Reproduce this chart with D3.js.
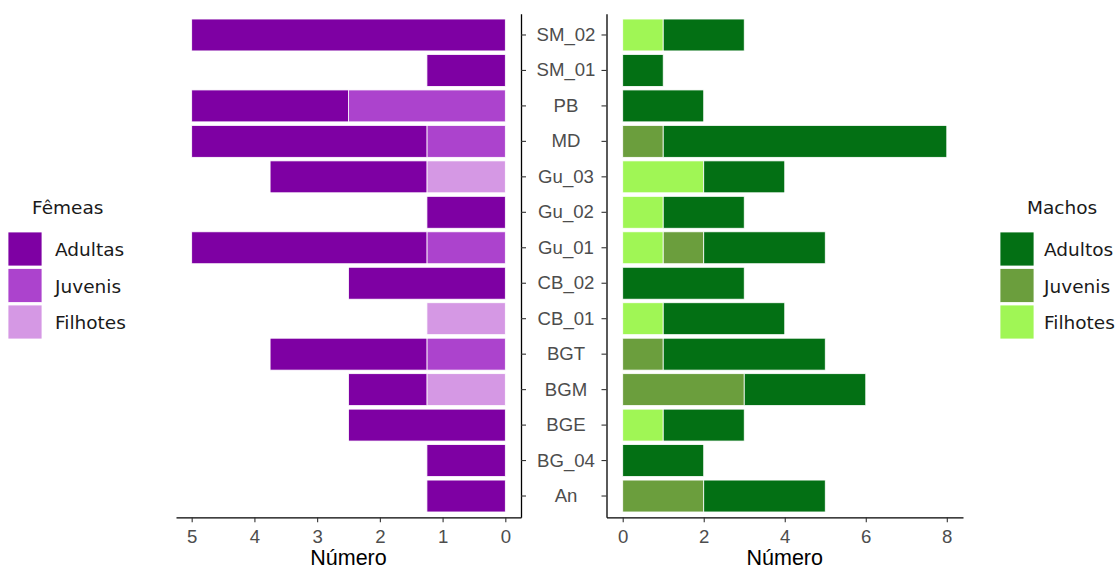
<!DOCTYPE html>
<html>
<head>
<meta charset="utf-8">
<script src="https://cdn.jsdelivr.net/npm/d3@7"></script>
<style>
  body { margin: 0; background: #fff; }
  svg { display: block; }
</style>
</head>
<body>
<svg id="chart" width="1119" height="570"></svg>
<script>
// Sampling sites, listed top to bottom
const sites = ["SM_02","SM_01","PB","MD","Gu_03","Gu_02","Gu_01","CB_02","CB_01","BGT","BGM","BGE","BG_04","An"];

// Females (left panel, reversed axis)
const femAdultas  = [5, 1.25, 2.5, 3.75, 2.5, 1.25, 3.75, 2.5, 0, 2.5, 1.25, 2.5, 1.25, 1.25];
const femJuvenis  = [0, 0, 2.5, 1.25, 0, 0, 1.25, 0, 0, 1.25, 0, 0, 0, 0];
const femFilhotes = [0, 0, 0, 0, 1.25, 0, 0, 0, 1.25, 0, 1.25, 0, 0, 0];

// Males (right panel)
const macAdultos  = [2, 1, 2, 7, 2, 2, 3, 3, 3, 4, 3, 2, 2, 3];
const macJuvenis  = [0, 0, 0, 1, 0, 0, 1, 0, 0, 1, 3, 0, 0, 2];
const macFilhotes = [1, 0, 0, 0, 2, 1, 1, 0, 1, 0, 0, 1, 0, 0];

const femTicks = [5, 4, 3, 2, 1, 0];
const macTicks = [0, 2, 4, 6, 8];

const femKeys = ["Adultas", "Juvenis", "Filhotes"];
const macKeys = ["Adultos", "Juvenis", "Filhotes"];
const femColors = ["#7E00A3", "#AC43CD", "#D598E4"];
const macColors = ["#037014", "#6B9E3D", "#A0F655"];

const femRows = sites.map((s, i) => ({site: s, Adultas: femAdultas[i], Juvenis: femJuvenis[i], Filhotes: femFilhotes[i]}));
const macRows = sites.map((s, i) => ({site: s, Adultos: macAdultos[i], Juvenis: macJuvenis[i], Filhotes: macFilhotes[i]}));

const svg = d3.select("#chart");
const plotTop = 13.7, plotBottom = 517.3;

const y = d3.scaleBand().domain(sites).range([plotTop, plotBottom]).paddingInner(0.1).paddingOuter(0.15);
const xF = d3.scaleLinear().domain([5.25, -0.25]).range([176, 521]);
const xM = d3.scaleLinear().domain([-0.4, 8.4]).range([606.5, 963]);

const tickFont = "'Liberation Sans', Arial, sans-serif";

// Stacks: young classes sit next to zero, adults outermost
const femStack = d3.stack().keys(["Filhotes", "Juvenis", "Adultas"])(femRows);
const macStack = d3.stack().keys(["Filhotes", "Juvenis", "Adultos"])(macRows);
const femColor = d3.scaleOrdinal().domain(femKeys).range(femColors);
const macColor = d3.scaleOrdinal().domain(macKeys).range(macColors);

function drawBars(stack, x, color) {
  svg.append("g").selectAll("g").data(stack).join("g")
    .attr("fill", d => color(d.key))
    .selectAll("rect").data(d => d.filter(p => p[1] - p[0] > 0)).join("rect")
      .attr("x", p => Math.min(x(p[0]), x(p[1])))
      .attr("width", p => Math.abs(x(p[1]) - x(p[0])))
      .attr("y", p => y(p.data.site))
      .attr("height", y.bandwidth())
      .attr("stroke", "#fff")
      .attr("stroke-width", 0.8);
}
drawBars(femStack, xF, femColor);
drawBars(macStack, xM, macColor);

function styleAxis(g) {
  g.select(".domain").attr("stroke", "#000").attr("stroke-width", 1.3);
  g.selectAll(".tick line").attr("stroke", "#333").attr("stroke-width", 1.1);
  g.selectAll(".tick text").attr("fill", "#4D4D4D").style("font-family", tickFont).style("font-size", "18.6px");
}

// Bottom axes
const axF = svg.append("g").attr("transform", `translate(0,${plotBottom})`)
  .call(d3.axisBottom(xF).tickValues(femTicks).tickFormat(d3.format("d")).tickSize(5).tickSizeOuter(0).tickPadding(7));
styleAxis(axF);
const axM = svg.append("g").attr("transform", `translate(0,${plotBottom})`)
  .call(d3.axisBottom(xM).tickValues(macTicks).tickFormat(d3.format("d")).tickSize(5).tickSizeOuter(0).tickPadding(7));
styleAxis(axM);

// Left panel: category axis on its right edge, ticks only
const ayF = svg.append("g").attr("transform", `translate(521,0)`)
  .call(d3.axisRight(y).tickSize(5).tickSizeOuter(0).tickFormat(""));
styleAxis(ayF);

// Right panel: category axis with centred labels
const ayM = svg.append("g").attr("transform", `translate(606.5,0)`)
  .call(d3.axisLeft(y).tickSize(5).tickSizeOuter(0));
styleAxis(ayM);
ayM.selectAll(".tick text").attr("text-anchor", "middle").attr("x", -40.5);

// Axis titles
svg.append("text").attr("x", (176 + 521) / 2).attr("y", 565).attr("text-anchor", "middle")
  .style("font-family", tickFont).style("font-size", "21.5px").attr("fill", "#000").text("Número");
svg.append("text").attr("x", (606.5 + 963) / 2).attr("y", 565).attr("text-anchor", "middle")
  .style("font-family", tickFont).style("font-size", "21.5px").attr("fill", "#000").text("Número");

// Legends
const legFont = "'DejaVu Sans', Verdana, sans-serif";
function legend(x0, title, keys, colors, titleX, labelX) {
  const g = svg.append("g");
  g.append("text").attr("x", titleX).attr("y", 214).text(title)
    .style("font-family", legFont).style("font-size", "18.5px").attr("fill", "#1A1A1A");
  keys.forEach((k, i) => {
    const yy = 232 + i * 36.5;
    g.append("rect").attr("x", x0).attr("y", yy).attr("width", 34).attr("height", 34)
      .attr("fill", colors[i]).attr("stroke", "#fff").attr("stroke-width", 0.8);
    g.append("text").attr("x", labelX).attr("y", yy + 18).attr("dy", "0.35em").text(k)
      .style("font-family", legFont).style("font-size", "18.5px").attr("fill", "#1A1A1A");
  });
}
legend(8, "Fêmeas", femKeys, femColors, 32, 55);
legend(1000, "Machos", macKeys, macColors, 1027, 1044);
</script>
</body>
</html>
